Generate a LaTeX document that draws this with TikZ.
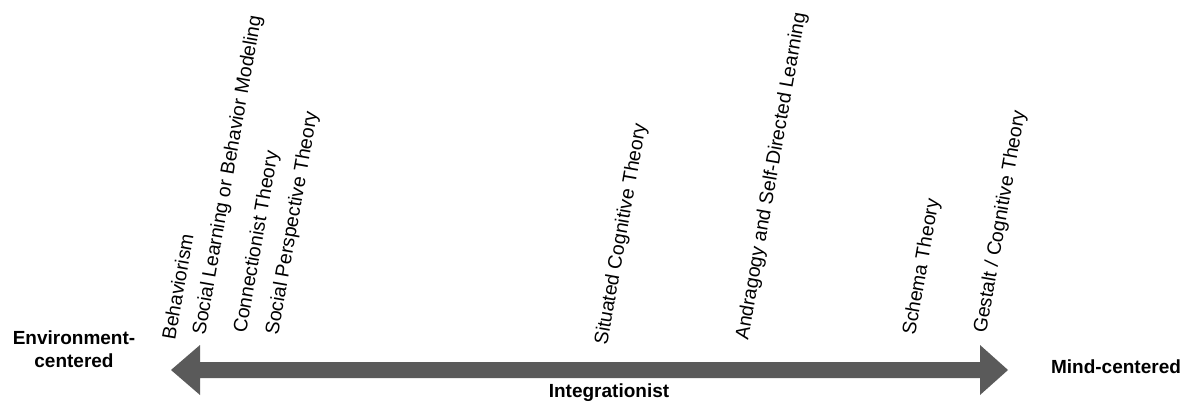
\documentclass[tikz,border=0pt]{standalone}
\usepackage{fontspec}
\setmainfont{Liberation Sans}
\definecolor{arrowgray}{RGB}{90,90,90}
\begin{document}
\begin{tikzpicture}[x=1pt,y=-1pt,
  theory/.style={rotate=80,anchor=base west,inner sep=0pt,font=\fontsize{19.5}{23}\selectfont},
  endlabel/.style={inner sep=0pt,font=\fontsize{19}{23}\selectfont\bfseries,align=center}]
\useasboundingbox (0,0) rectangle (1191,403);
% double-headed arrow
\coordinate (L) at (171,370);
\coordinate (R) at (1008,370);
\fill[arrowgray] (L) -- (200,345) -- (200,362) -- (980,362) -- (980,345) -- (R)
  -- (980,395) -- (980,378) -- (200,378) -- (200,395) -- cycle;
% end labels
\node[endlabel,anchor=base] (env) at (74,367) {Environment-\\centered};
\node[endlabel,anchor=base] (mind) at (1116,373) {Mind-centered};
\node[endlabel,anchor=base] (integ) at (609,397) {Integrationist};
% theories
\node[theory] (t1) at (175,341) {Behaviorism};
\node[theory] (t2) at (205,336) {Social Learning or Behavior Modeling};
\node[theory] (t3) at (246,334) {Connectionist Theory};
\node[theory] (t4) at (278,336) {Social Perspective Theory};
\node[theory] (t5) at (607,346) {Situated Cognitive Theory};
\node[theory] (t6) at (748,341) {Andragogy and Self-Directed Learning};
\node[theory] (t7) at (915,336) {Schema Theory};
\node[theory] (t8) at (986,334) {Gestalt / Cognitive Theory};
\end{tikzpicture}
\end{document}
